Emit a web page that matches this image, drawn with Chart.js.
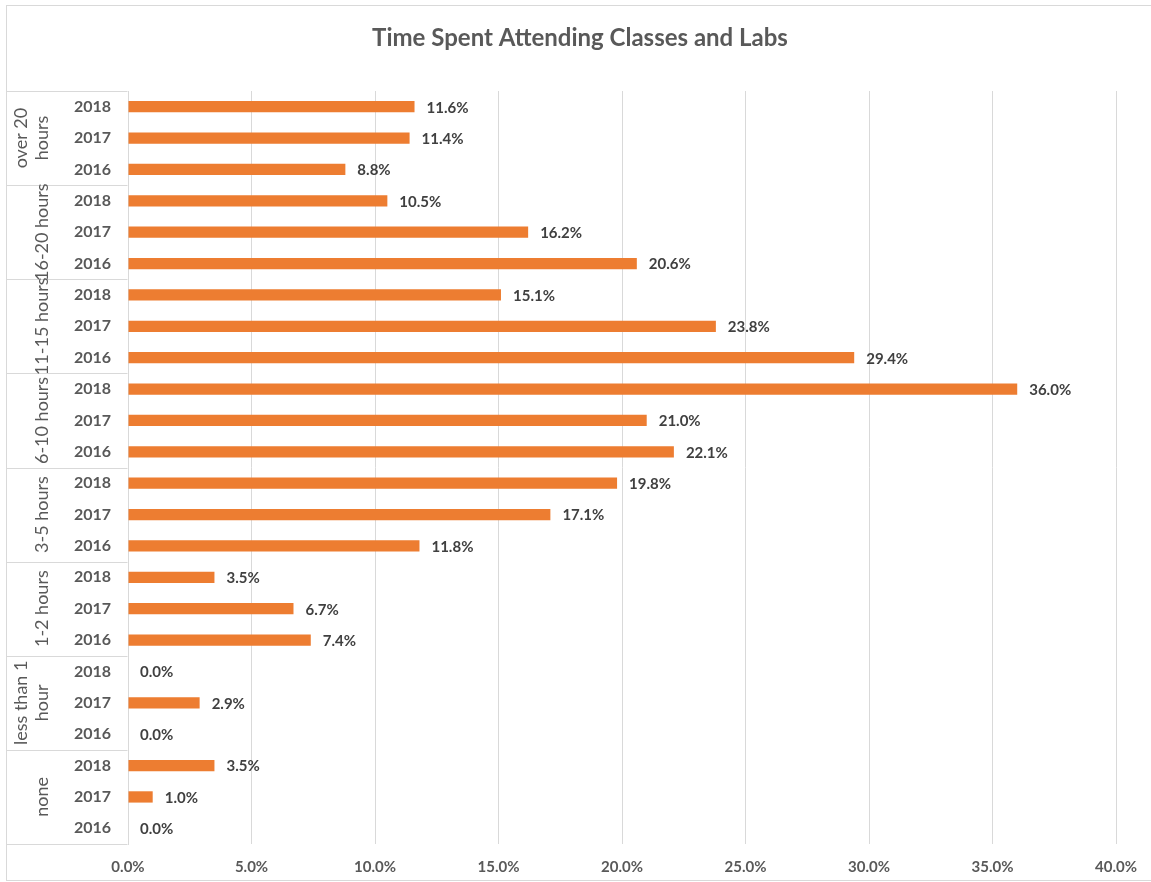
<!DOCTYPE html>
<html>
<head>
<meta charset="utf-8">
<script src="https://cdn.jsdelivr.net/npm/chart.js@4/dist/chart.umd.min.js"></script>
<style>
  html, body { margin: 0; padding: 0; background: #ffffff; }
  canvas { display: block; }
</style>
</head>
<body>
<canvas id="chart" width="1151" height="882"></canvas>
<script>
// Hour bands, top to bottom; each entry holds the wrapped lines of its label
const hourBands = [
  ['over 20', 'hours'],
  ['16-20 hours'],
  ['11-15 hours'],
  ['6-10 hours'],
  ['3-5 hours'],
  ['1-2 hours'],
  ['less than 1', 'hour'],
  ['none']
];
const years = ['2018', '2017', '2016'];

// Share of students (%) per hour band, one array per survey year
const share2018 = [11.6, 10.5, 15.1, 36.0, 19.8, 3.5, 0.0, 3.5];
const share2017 = [11.4, 16.2, 23.8, 21.0, 17.1, 6.7, 2.9, 1.0];
const share2016 = [8.8, 20.6, 29.4, 22.1, 11.8, 7.4, 0.0, 0.0];

const axisTicks = [0, 5, 10, 15, 20, 25, 30, 35, 40];
const chartTitle = 'Time Spent Attending Classes and Labs';

// One bar row per band/year pair
const rowLabels = [];
const rowValues = [];
const byYear = { '2018': share2018, '2017': share2017, '2016': share2016 };
hourBands.forEach((band, b) => {
  years.forEach(y => {
    rowLabels.push(y);
    rowValues.push(byYear[y][b]);
  });
});

const FONT = 'Lato, "Open Sans", sans-serif';
const TEXT = '#595959';
const LINE = '#d9d9d9';

const decorations = {
  id: 'decorations',
  beforeDraw(chart) {
    const ctx = chart.ctx;
    ctx.save();
    ctx.fillStyle = '#ffffff';
    ctx.fillRect(0, 0, chart.width, chart.height);
    ctx.strokeStyle = LINE;
    ctx.lineWidth = 1;
    ctx.strokeRect(6.5, 5.5, chart.width + 10, 875);
    ctx.restore();
  },
  afterDraw(chart) {
    const ctx = chart.ctx;
    const area = chart.chartArea;
    const yScale = chart.scales.y;
    ctx.save();

    // title
    ctx.fillStyle = TEXT;
    ctx.font = 'bold 24px ' + FONT;
    ctx.textAlign = 'center';
    ctx.textBaseline = 'middle';
    ctx.fillText(chartTitle, 580, 38);

    // grouping table on the left
    ctx.strokeStyle = LINE;
    ctx.lineWidth = 1;
    const tableLeft = 6.5;
    const tableRight = Math.round(area.left) - 0.5;
    const edges = [area.top];
    for (let b = 1; b < hourBands.length; b++) {
      const a = yScale.getPixelForValue(b * 3 - 1);
      const c = yScale.getPixelForValue(b * 3);
      edges.push((a + c) / 2);
    }
    edges.push(area.bottom);
    ctx.beginPath();
    edges.forEach(e => {
      const yy = Math.round(e) + 0.5;
      ctx.moveTo(tableLeft, yy);
      ctx.lineTo(tableRight, yy);
    });
    ctx.stroke();

    // rotated band labels
    ctx.fillStyle = TEXT;
    ctx.font = '18px ' + FONT;
    ctx.textAlign = 'center';
    ctx.textBaseline = 'middle';
    hourBands.forEach((lines, b) => {
      const cy = (edges[b] + edges[b + 1]) / 2;
      const n = lines.length;
      lines.forEach((txt, i) => {
        const cx = 42 - (n - 1 - i) * 21;
        ctx.save();
        ctx.translate(cx, cy);
        ctx.rotate(-Math.PI / 2);
        ctx.fillText(txt, 0, 0);
        ctx.restore();
      });
    });

    // value labels at the end of each bar
    const meta = chart.getDatasetMeta(0);
    ctx.fillStyle = '#404040';
    ctx.font = 'bold 15px ' + FONT;
    ctx.textAlign = 'left';
    ctx.textBaseline = 'middle';
    meta.data.forEach((bar, i) => {
      const v = rowValues[i];
      ctx.fillText(v.toFixed(1) + '%', bar.x + 12, bar.y + 1);
    });
    ctx.restore();
  }
};

new Chart(document.getElementById('chart'), {
  type: 'bar',
  data: {
    labels: rowLabels,
    datasets: [{
      data: rowValues,
      backgroundColor: '#ed7d31',
      borderWidth: 0,
      barPercentage: 0.36,
      categoryPercentage: 1
    }]
  },
  options: {
    indexAxis: 'y',
    responsive: false,
    animation: false,
    devicePixelRatio: 1,
    layout: { padding: { top: 91, left: 6, right: 31, bottom: 0 } },
    plugins: {
      legend: { display: false },
      tooltip: { enabled: false },
      title: { display: false }
    },
    scales: {
      x: {
        min: axisTicks[0],
        max: axisTicks[axisTicks.length - 1],
        afterBuildTicks(scale) {
          scale.ticks = axisTicks.map(v => ({ value: v }));
        },
        afterFit(scale) { scale.height = 38; },
        grid: { color: LINE, drawTicks: false },
        border: { display: false },
        ticks: {
          padding: 14,
          color: TEXT,
          font: { family: FONT, size: 15, weight: 'bold' },
          maxRotation: 0,
          callback: v => Number(v).toFixed(1) + '%'
        }
      },
      y: {
        afterFit(scale) { scale.width = 122; },
        grid: { display: false },
        border: { display: true, color: LINE },
        ticks: {
          padding: 9,
          color: TEXT,
          font: { family: FONT, size: 16, weight: 'bold' },
          autoSkip: false
        }
      }
    }
  },
  plugins: [decorations]
});
</script>
</body>
</html>
